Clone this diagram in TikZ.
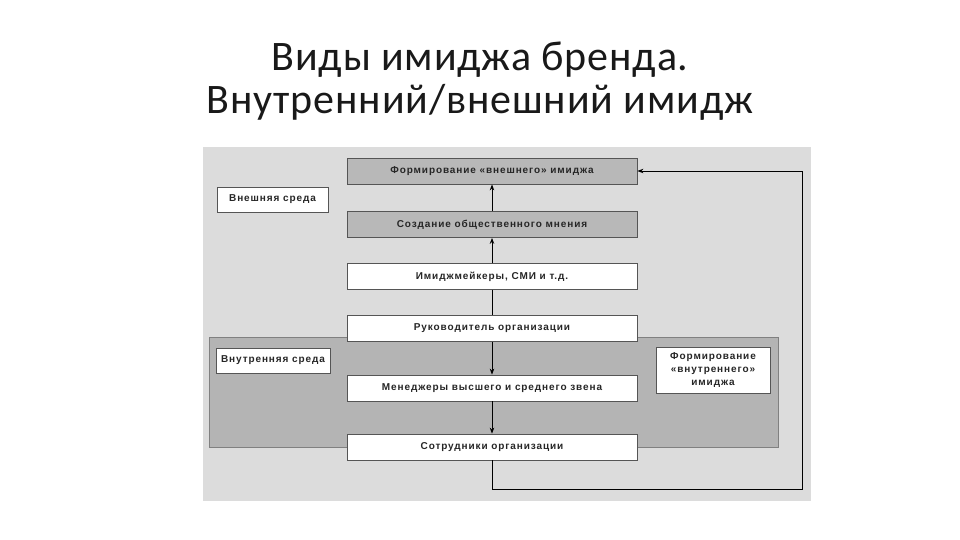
\documentclass[tikz,border=0pt]{standalone}
\usepackage{fontspec}
\setmainfont{Carlito}
\newfontfamily\titlefont[LetterSpace=2]{Carlito}
\newfontfamily\boxfont[LetterSpace=9]{Liberation Sans}
\usetikzlibrary{arrows.meta}
\definecolor{outerbg}{HTML}{DCDCDC}
\definecolor{innerbg}{HTML}{B4B4B4}
\definecolor{graybox}{HTML}{B8B8B8}
\definecolor{edge}{HTML}{555555}
\tikzset{
  stagebox/.style={draw=edge, line width=0.8pt, minimum width=290pt, minimum height=26pt,
    inner sep=0pt, font=\boxfont\bfseries\fontsize{10}{13}\selectfont, text=black!85},
  labelbox/.style={draw=edge, line width=0.8pt, fill=white, inner sep=0pt, align=center,
    font=\boxfont\bfseries\fontsize{10}{13}\selectfont, text=black!85},
  arr/.style={draw=black, line width=0.9pt, -{Stealth[length=6pt,width=4.5pt]}},
  plain/.style={draw=black, line width=0.9pt}
}
\begin{document}
\begin{tikzpicture}[x=1pt,y=-1pt]
\useasboundingbox (0,0) rectangle (960,540);
\node (title) at (480,81) [align=center, font=\titlefont\fontsize{42}{43}\selectfont, text=black!90] {Виды имиджа бренда.\\Внутренний/внешний имидж};
\fill[outerbg] (203,147) rectangle (811,501);
\filldraw[fill=innerbg, draw=gray, line width=0.6pt] (209,337) rectangle (778,447);
\node[stagebox, fill=graybox] (b1) at (492,171) {Формирование «внешнего» имиджа};
\node[stagebox, fill=graybox] (b2) at (492,224.5) {Создание общественного мнения};
\node[stagebox, fill=white] (b3) at (492,276.5) {Имиджмейкеры, СМИ и т.д.};
\node[stagebox, fill=white] (b4) at (492,328.5) {Руководитель организации};
\node[stagebox, fill=white] (b5) at (492,388) {Менеджеры высшего и среднего звена};
\node[stagebox, fill=white] (b6) at (492,447) {Сотрудники организации};
\node[labelbox, minimum width=111pt, minimum height=25pt] (ext) at (272.5,199.5) {Внешняя среда};
\node[labelbox, minimum width=114pt, minimum height=25pt] (int) at (273,360.5) {Внутренняя среда};
\node[labelbox, minimum width=114pt, minimum height=46pt] (fint) at (713,370) {Формирование\\«внутреннего»\\имиджа};
\draw[arr] (b2) -- (b1);
\draw[arr] (b3) -- (b2);
\draw[plain] (b3) -- (b4);
\draw[arr] (b4) -- (b5);
\draw[arr] (b5) -- (b6);
\coordinate (c1) at (802,489);
\draw[arr] (b6.south) |- (c1) |- (b1.east);
\end{tikzpicture}
\end{document}
